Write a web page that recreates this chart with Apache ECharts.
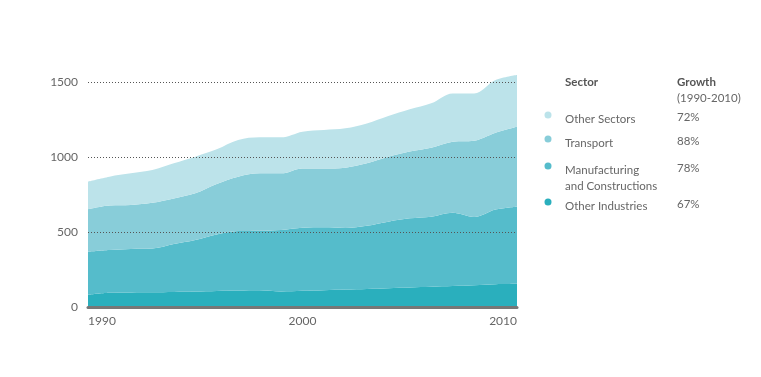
<!DOCTYPE html>
<html>
<head>
<meta charset="utf-8">
<script src="https://cdn.jsdelivr.net/npm/echarts@6/dist/echarts.min.js"></script>
<style>
  html, body { margin: 0; padding: 0; background: #fff; }
  #chart { width: 761px; height: 377px; }
</style>
</head>
<body>
<div id="chart"></div>
<script>
// years on the x axis
var years = [];
for (var y = 1990; y <= 2010; y++) years.push(String(y));

// emissions by sector (stacked, bottom to top)
var otherIndustries = [82, 95, 97, 98, 100, 103, 107, 110, 112, 104, 108, 112, 116, 120, 125, 130, 135, 140, 145, 152, 155];
var manufacturing = [287, 285, 290, 292, 320, 344, 377, 397, 396, 409, 421, 419, 411, 422, 444, 461, 467, 488, 455, 498, 514];
var transport = [282, 296, 293, 305, 304, 311, 336, 362, 383, 378, 395, 393, 402, 416, 433, 445, 460, 474, 509, 512, 533];
var otherSectors = [185, 193, 211, 218, 234, 244, 231, 244, 240, 240, 245, 256, 262, 266, 271, 282, 296, 322, 315, 351, 345];

// legend table (top to bottom)
var legendNames = ['Other Sectors', 'Transport', 'Manufacturing\nand Constructions', 'Other Industries'];
var legendGrowth = ['72%', '88%', '78%', '67%'];
var legendColors = ['#bce3ea', '#88cdd9', '#55bccb', '#2aafbd'];

var FONT = 'Lato, "Open Sans", sans-serif';

var myChart = echarts.init(document.getElementById('chart'));

function areaSeries(name, data, color) {
  return {
    name: name,
    type: 'line',
    stack: 'total',
    smooth: 0.35,
    symbol: 'none',
    clip: false,
    data: data,
    lineStyle: { width: 0 },
    areaStyle: { color: color, opacity: 1 },
    itemStyle: { color: color }
  };
}

// legend rows drawn as graphic texts
var rowY = [118, 142, 169, 205];
var graphics = [
  { type: 'text', left: 565, top: 76, style: { text: 'Sector', fill: '#555', font: 'bold 11.5px ' + FONT } },
  { type: 'text', left: 677, top: 76, style: { text: 'Growth', fill: '#555', font: 'bold 11.5px ' + FONT } },
  { type: 'text', left: 677, top: 92, style: { text: '(1990-2010)', fill: '#666', font: '11.5px ' + FONT } }
];
legendNames.forEach(function (n, i) {
  graphics.push({ type: 'circle', shape: { cx: 548, cy: rowY[i] - 3, r: 3.5 }, style: { fill: legendColors[i] } });
  graphics.push({ type: 'text', left: 565, top: rowY[i] - 7, style: { text: n, fill: '#666', font: '11.5px ' + FONT, lineHeight: 16 } });
  graphics.push({ type: 'text', left: 677, top: rowY[i] - 7, style: { text: legendGrowth[i], fill: '#666', font: '11.5px ' + FONT } });
});

myChart.setOption({
  animation: false,
  grid: { left: 88, right: 244, top: 82, bottom: 70, containLabel: false },
  xAxis: {
    type: 'category',
    data: years,
    boundaryGap: false,
    offset: 2,
    z: 5,
    axisLine: { lineStyle: { color: '#777', width: 3 } },
    axisTick: { show: false },
    axisLabel: {
      interval: 9,
      color: '#666',
      fontSize: 12,
      fontFamily: FONT,
      margin: 6,
      alignMinLabel: 'left',
      alignMaxLabel: 'right'
    },
    splitLine: { show: false }
  },
  yAxis: {
    type: 'value',
    min: 0,
    max: 1500,
    interval: 500,
    z: 5,
    axisLine: { show: false },
    axisTick: { show: false },
    axisLabel: {
      color: '#666', fontSize: 12, fontFamily: FONT, margin: 10,
      formatter: function (v) { return String(v); }
    },
    splitLine: { lineStyle: { color: '#555', type: [1, 2], width: 1 } }
  },
  series: [
    areaSeries('Other Industries', otherIndustries, '#2aafbd'),
    areaSeries('Manufacturing and Constructions', manufacturing, '#55bccb'),
    areaSeries('Transport', transport, '#88cdd9'),
    areaSeries('Other Sectors', otherSectors, '#bce3ea')
  ],
  graphic: graphics
});
</script>
</body>
</html>
